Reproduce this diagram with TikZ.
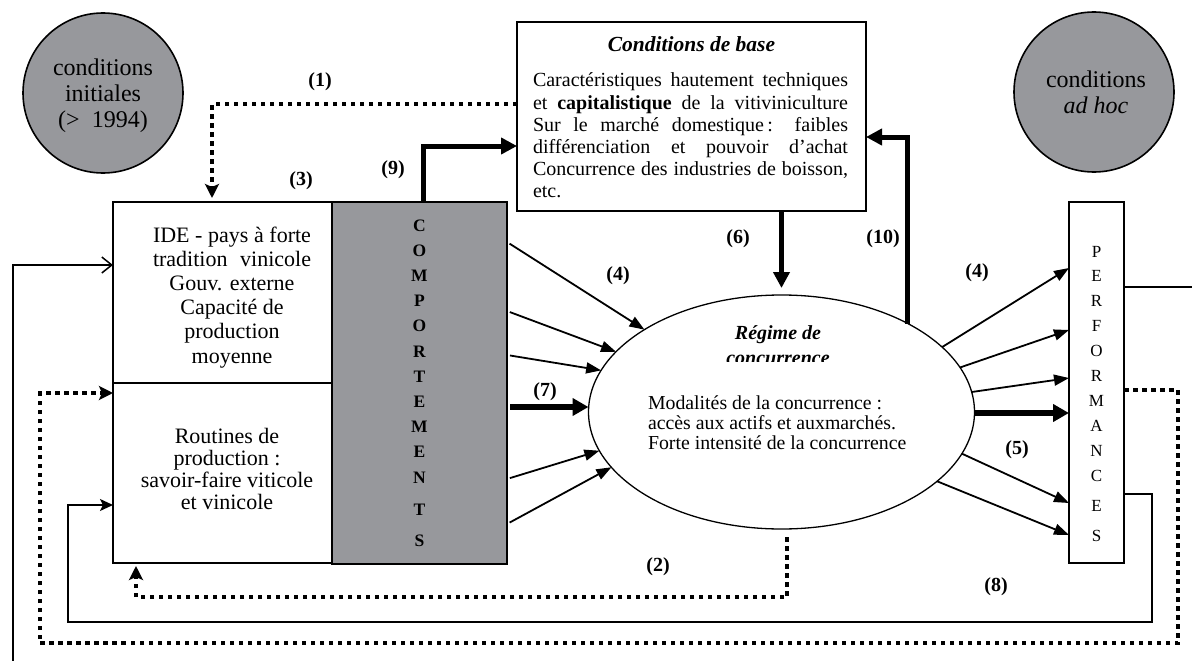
\documentclass[tikz,border=0pt]{standalone}
\usepackage{fontspec}
\setmainfont{Liberation Serif}
\usetikzlibrary{arrows.meta,shapes.geometric}
\definecolor{panelgray}{RGB}{151,152,156}
\begin{document}
\begin{tikzpicture}[x=1pt,y=-1pt,
  every node/.style={inner sep=0pt,outer sep=0pt},
  outline/.style={draw=black,line width=1.6pt},
  plain/.style={draw=black,line width=1.5pt},
  fan/.style={draw=black,line width=1.8pt,-{Triangle[length=15pt,width=11pt]}},
  fanleft/.style={fan,shorten <=3pt},
  heavy/.style={draw=black,line width=5pt,-{Triangle[length=16pt,width=16pt]}},
  heavier/.style={draw=black,line width=6pt,-{Triangle[length=16pt,width=17pt]}},
  dotline/.style={draw=black,line width=4.5pt,dash pattern=on 4.5pt off 4.5pt},
  dothead/.style={-{Stealth[length=14pt,width=14pt,inset=3pt]}},
  num/.style={font=\fontsize{20}{22}\selectfont\bfseries},
  body/.style={font=\fontsize{22}{24.2}\selectfont},
  circtext/.style={font=\fontsize{24}{26}\selectfont},
]
\useasboundingbox (0,0) rectangle (1192,661);

% ---- shapes ----
\node[outline,circle,fill=panelgray,minimum size=160pt] (init) at (103,93) {};
\node[outline,circle,fill=panelgray,minimum size=160pt] (adhoc) at (1094,92) {};
\node[outline,rectangle,minimum width=349pt,minimum height=189pt,anchor=north west] (base) at (517,22) {};
\node[outline,rectangle,minimum width=219pt,minimum height=181pt,anchor=north west] (idetop) at (113,202) {};
\node[outline,rectangle,minimum width=219pt,minimum height=180pt,anchor=north west] (ideroutines) at (113,383) {};
\node[outline,rectangle,fill=panelgray,minimum width=175pt,minimum height=362pt,anchor=north west] (comp) at (332,202) {};
\node[outline,rectangle,minimum width=55pt,minimum height=361pt,anchor=north west] (perf) at (1069,202) {};
\node[draw=black,line width=1.3pt,ellipse,minimum width=386pt,minimum height=234pt] (reg) at (781.5,412) {};

% ---- corners and free ends ----
\coordinate (sw8) at (68,622);
\coordinate (swDots) at (40,643);
\coordinate (wrapIn) at (13,661);
\coordinate (wrapOut) at (1192,287);

% ---- feedback loops ----
\draw[dotline,dothead,shorten >=4pt] (base.west |- 0,104) -| (idetop.north -| 212,0);
\draw[dotline,dothead,shorten >=3pt] (reg.south -| 787,0) ++(0,8) -- ++(0,60) -| (ideroutines.south -| 136,0);
\draw[dotline,dothead] (perf.east |- 0,390) -- ++(54,0) |- (swDots) |- (ideroutines.west |- 0,393);
\draw[plain,-{Stealth[length=13pt,width=12pt,inset=3pt]}] (perf.east |- 0,494) -- ++(28,0) |- (sw8) |- (ideroutines.west |- 0,505);
\draw[plain,-{Straight Barb[length=10pt,width=16pt]}] (wrapIn) |- (idetop.west |- 0,265);
\draw[plain] (perf.east |- 0,287) -- (wrapOut);

% ---- heavy links ----
\draw[heavy] (comp.north -| 423,0) |- (base.west |- 0,146);
\draw[heavy] (reg.35) |- (base.east |- 0,137);
\draw[heavy,shorten >=7pt] (reg.north |- base.south) -- (reg.north);

% ---- behaviours towards competition ----
\draw[fanleft] (comp.east |- 0,242) -- (reg.149);
\draw[fanleft] (comp.east |- 0,311) -- (reg.160);
\draw[fanleft] (comp.east |- 0,355) -- (reg.167);
\draw[heavier,shorten <=3pt] (comp.east |- 0,407) -- (reg.west |- 0,407);
\draw[fanleft] (comp.east |- 0,479) -- (reg.192);
\draw[fanleft] (comp.east |- 0,524) -- (reg.198);

% ---- competition towards performances ----
\draw[fan] (reg.22) -- (perf.west |- 0,268);
\draw[fan] (reg.14) -- (perf.west |- 0,330);
\draw[fan] (reg.6) -- (perf.west |- 0,378);
\draw[heavier] (reg.east |- 0,413) -- (perf.west |- 0,413);
\draw[fan] (reg.347) -- (perf.west |- 0,503);
\draw[fan] (reg.336) -- (perf.west |- 0,535);

% ---- texts ----
\node[circtext,anchor=base] (initTxt) at (103,76)
  {\parbox[t]{150pt}{\centering conditions\\ initiales\\ (>~~1994)}};
\node[circtext,anchor=base] (adhocTxt) at (1096,88)
  {\parbox[t]{150pt}{\centering conditions\\ \textit{ad hoc}}};

\node[anchor=base,font=\fontsize{21.5}{24}\selectfont\bfseries\itshape] (baseTitle) at (691.5,52) {Conditions de base};
\node[anchor=base west,font=\fontsize{20}{22.2}\selectfont] (baseTxt) at (533,87)
  {\parbox[t]{315pt}{%
    \makebox[315pt][s]{Caractéristiques hautement techniques}\\
    \makebox[315pt][s]{et \textbf{capitalistique} de la vitiviniculture}\\
    \makebox[315pt][s]{Sur le marché domestique\,: faibles}\\
    \makebox[315pt][s]{différenciation et pouvoir d’achat}\\
    \makebox[315pt][s]{Concurrence des industries de boisson,}\\
    etc.}};

\node[body,anchor=base] (ideTxt) at (232,242)
  {\parbox[t]{170pt}{\centering
    \makebox[158pt][s]{IDE - pays à forte}\\
    \makebox[158pt][s]{tradition vinicole}\\
    Gouv. externe\\ Capacité de\\ production\\ moyenne}};
\node[body,anchor=base] (routTxt) at (227,443)
  {\parbox[t]{200pt}{\centering\baselineskip=22pt
    Routines de\\ production :\\ savoir-faire viticole\\ et vinicole}};

\node[anchor=base,font=\fontsize{17.5}{25.2}\selectfont\bfseries] (compTxt) at (419.5,231)
  {\parbox[t]{20pt}{\centering C\\O\\M\\P\\O\\R\\T\\E\\M\\E\\N\\[6.8pt]T\\[6pt]S}};
\node[anchor=base,font=\fontsize{17}{24.9}\selectfont] (perfTxt) at (1096.5,257)
  {\parbox[t]{20pt}{\centering P\\E\\R\\F\\O\\R\\M\\A\\N\\C\\[5.1pt]E\\[5.1pt]S}};

\node[anchor=base,font=\fontsize{20}{22}\selectfont\bfseries\itshape] (regTitle) at (778,339) {Régime de};
\begin{scope}
  \clip (680,345) rectangle (880,361);
  \node[anchor=base,font=\fontsize{20}{22}\selectfont\bfseries\itshape] (regTitleB) at (778,364) {concurrence};
\end{scope}
\node[anchor=base west,font=\fontsize{19.8}{20}\selectfont] (regTxt) at (648,409)
  {\parbox[t]{300pt}{Modalités de la concurrence :\\ accès aux actifs et auxmarchés.\\ Forte intensité de la concurrence}};

% ---- link numbers ----
\node[num] (l1) at (320,82) {(1)};
\node[num] (l2) at (658,567) {(2)};
\node[num] (l3) at (301,181) {(3)};
\node[num] (l4a) at (618,276) {(4)};
\node[num] (l4b) at (977,273) {(4)};
\node[num] (l5) at (1017,450) {(5)};
\node[num] (l6) at (738,239) {(6)};
\node[num] (l7) at (545,392) {(7)};
\node[num] (l8) at (996,587) {(8)};
\node[num] (l9) at (393,170) {(9)};
\node[num] (l10) at (883,239) {(10)};
\end{tikzpicture}
\end{document}
